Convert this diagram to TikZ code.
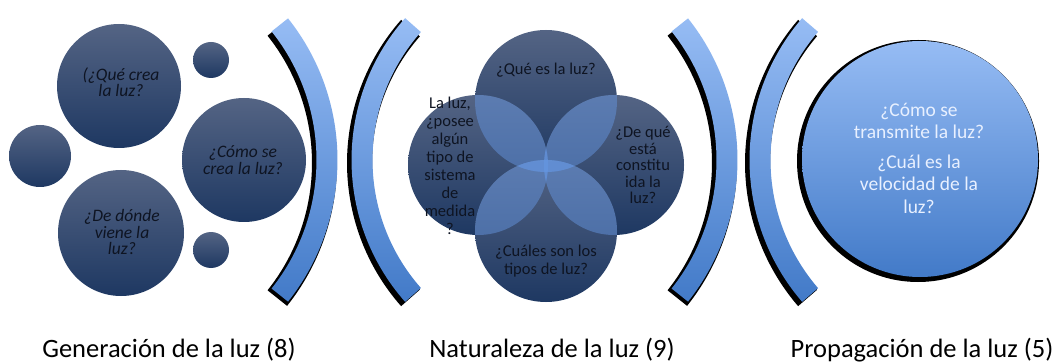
\documentclass[tikz,border=0pt]{standalone}
\usepackage{fontspec}
\setmainfont{Carlito}
\usetikzlibrary{calc}
\definecolor{navytop}{RGB}{84,100,132}
\definecolor{navybot}{RGB}{30,56,98}
\definecolor{lens}{RGB}{100,148,222}
\definecolor{bluetop}{RGB}{150,188,244}
\definecolor{bluebot}{RGB}{66,122,200}
\definecolor{txtdark}{RGB}{14,20,34}
\definecolor{txtlight}{RGB}{232,240,255}
\tikzset{
  navyfill/.style={top color=navytop, bottom color=navybot, draw=none},
  bluefill/.style={top color=bluetop, bottom color=bluebot},
  qtext/.style={align=center, text=txtdark, font=\itshape\fontsize{17.5}{16.5}\selectfont, inner sep=0pt},
  vtext/.style={align=center, text=txtdark, font=\fontsize{16.5}{18}\selectfont, inner sep=0pt},
  rtext/.style={align=center, text=txtlight, font=\fontsize{19.5}{21.5}\selectfont, inner sep=0pt},
  label/.style={text=black, font=\fontsize{26.5}{28}\selectfont, inner sep=0pt, anchor=base},
}
% bracket: #1 center x, #2 radius, #3 half angle, #4 = 0 for ")" or 180 for "(", #5 half width, #6 style
\newcommand{\bracketband}[6]{%
  \path[#6] (#1,160) ++({#4-#3}:{#2+#5}) arc[start angle={#4-#3}, end angle={#4+#3}, radius={#2+#5}]
    -- ($(#1,160)+({#4+#3}:{#2-#5})$) arc[start angle={#4+#3}, end angle={#4-#3}, radius={#2-#5}] -- cycle;}
\begin{document}
\begin{tikzpicture}[x=1pt, y=-1pt]
\useasboundingbox (0,0) rectangle (1056,363);
\fill[white] (0,0) rectangle (1056,363);

% ---------- left group ----------
\path[navyfill] (119,86) circle[radius=62];
\path[navyfill] (211,60) circle[radius=18];
\path[navyfill] (40,156) circle[radius=31];
\path[navyfill] (244,160) circle[radius=62];
\path[navyfill] (121,233) circle[radius=63];
\path[navyfill] (211,250) circle[radius=18];
\node[qtext] (q1) at (121,82) {(¿Qué crea\\la luz?};
\node[qtext] (q2) at (243,160) {¿Cómo se\\crea la luz?};
\node[qtext] (q3) at (122,232) {¿De dónde\\viene la\\luz?};

% ---------- brackets ----------
\begin{scope}[xshift=-2.5pt, yshift=-3pt]
\bracketband{110}{217}{38.5}{0}{12.5}{fill=black}
\bracketband{566}{204}{41.4}{180}{12.5}{fill=black}
\bracketband{510}{217}{38.5}{0}{12.5}{fill=black}
\bracketband{967}{207}{40.7}{180}{12.5}{fill=black}
\end{scope}
\bracketband{110}{217}{38.5}{0}{10.5}{bluefill}
\bracketband{566}{204}{41.4}{180}{10.5}{bluefill}
\bracketband{510}{217}{38.5}{0}{10.5}{bluefill}
\bracketband{967}{207}{40.7}{180}{10.5}{bluefill}

% ---------- Venn group ----------
\coordinate (vt) at (546,101);
\coordinate (vl) at (478,165);
\coordinate (vr) at (614,165);
\coordinate (vb) at (546,231);
\path[navyfill] (vt) circle[radius=71];
\path[navyfill] (vl) circle[radius=70];
\path[navyfill] (vr) circle[radius=70];
\path[navyfill] (vb) circle[radius=71];
\foreach \a/\ra/\b/\rb in {vt/71/vl/70, vt/71/vr/70, vb/71/vl/70, vb/71/vr/70, vt/71/vb/71, vl/70/vr/70}{
  \begin{scope}
    \clip (\a) circle[radius=\ra];
    \fill[lens, fill opacity=0.5] (\b) circle[radius=\rb];
  \end{scope}
}
\node[vtext] (v1) at (546,70) {¿Qué es la luz?};
\node[vtext] (v2) at (450,166) {La luz,\\¿posee\\algún\\tipo de\\sistema\\de\\medida\\?};
\node[vtext, font=\fontsize{16.5}{16.5}\selectfont] (v3) at (643,165) {¿De qué\\está\\constitu\\ida la\\luz?};
\node[vtext] (v4) at (546,261) {¿Cuáles son los\\tipos de luz?};

% ---------- right circle ----------
\fill[black] (918,161) circle[radius=121];
\path[bluefill] (920,159) circle[radius=118];
\node[rtext] (r1) at (919,121) {¿Cómo se\\transmite la luz?};
\node[rtext, font=\fontsize{19.5}{22.5}\selectfont] (r2) at (919,184) {¿Cuál es la\\velocidad de la\\luz?};

% ---------- labels ----------
\node[label] (l1) at (169,357) {Generación de la luz (8)};
\node[label] (l2) at (552,357) {Naturaleza de la luz (9)};
\node[label] (l3) at (922,357) {Propagación de la luz (5)};
\end{tikzpicture}
\end{document}
